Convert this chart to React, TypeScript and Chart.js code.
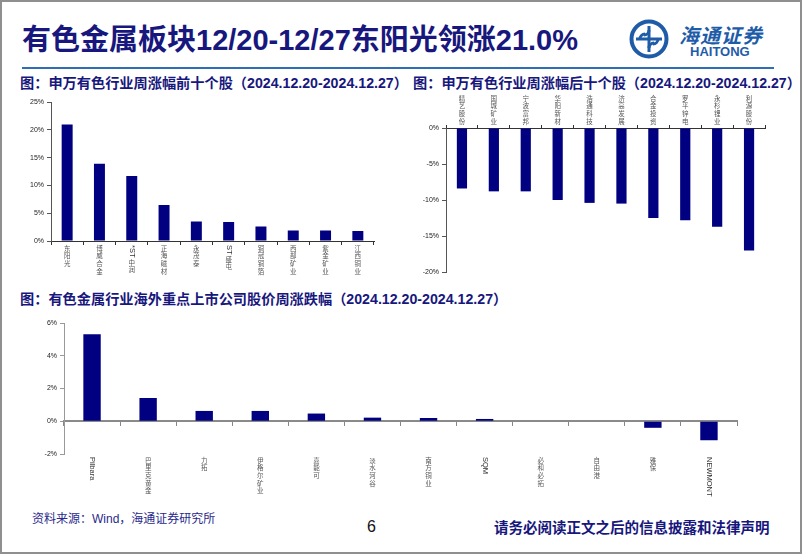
import React, { useEffect, useRef } from 'react';
import { Chart, registerables } from 'chart.js';

Chart.register(...registerables);

// ---- Data ----
const topLabels = ['东阳光', '博威合金', '*ST中润', '正海磁材', '永茂泰', 'ST盛屯', '铜冠铜箔', '西部矿业', '紫金矿业', '江西铜业'];
const topValues = [21.0, 13.9, 11.7, 6.5, 3.5, 3.4, 2.6, 1.9, 1.9, 1.8];

const bottomLabels = ['精艺股份', '国城矿业', '宁波富邦', '华阳新材', '浩通科技', '济高发展', '合金投资', '罗平锌电', '永杉锂业', '利源股份'];
const bottomValues = [-8.4, -8.8, -8.8, -10.0, -10.4, -10.5, -12.5, -12.8, -13.7, -17.0];

const overseasLabels = ['Pilbara', '巴里克黄金', '力拓', '伊格尔矿业', '嘉能可', '淡水河谷', '南方铜业', 'SQM', '必和必拓', '自由港', '雅保', 'NEWMONT'];
const overseasValues = [5.32, 1.42, 0.63, 0.63, 0.47, 0.22, 0.2, 0.14, 0, 0, -0.4, -1.16];

const topTicks = { min: 0, max: 25, step: 5 };
const bottomTicks = { min: -20, max: 0, step: 5 };
const overseasTicks = { min: -2, max: 6, step: 2 };

const NAVY = '#000080';
const TEXT_NAVY = '#17177d';

Chart.defaults.font.family = '"Liberation Sans", Arial, sans-serif';

function makeVLabelPlugin(topFn: (chart: any) => number) {
  return {
    id: 'vlabels',
    afterDraw(chart: any) {
      const { ctx } = chart;
      const xs = chart.scales.x;
      const labels: string[] = chart.data.labels;
      const size = 6.5;
      const pitch = 7.6;
      ctx.save();
      ctx.fillStyle = '#555';
      labels.forEach((lab, i) => {
        const x = xs.getPixelForValue(i);
        let y = topFn(chart);
        const chars = Array.from(lab);
        let k = 0;
        while (k < chars.length) {
          if (chars[k].charCodeAt(0) < 128) {
            let run = '';
            while (k < chars.length && chars[k].charCodeAt(0) < 128) run += chars[k++];
            ctx.save();
            ctx.font = `7.5px "Liberation Sans", Arial, sans-serif`;
            ctx.fillStyle = '#333';
            ctx.translate(x, y);
            ctx.rotate(Math.PI / 2);
            ctx.textAlign = 'left';
            ctx.textBaseline = 'middle';
            ctx.fillText(run, 0, 0);
            const w = ctx.measureText(run).width;
            ctx.restore();
            y += w + 1.5;
          } else {
            ctx.font = `${size}px "Noto Sans CJK SC", sans-serif`;
            ctx.textAlign = 'center';
            ctx.textBaseline = 'top';
            ctx.fillText(chars[k], x, y);
            y += pitch;
            k++;
          }
        }
      });
      ctx.restore();
    },
  };
}

const yTickFont = { size: 7 };

function cfgTop(): any {
  return {
    type: 'bar',
    data: {
      labels: topLabels,
      datasets: [{ data: topValues, backgroundColor: NAVY, barPercentage: 0.34, categoryPercentage: 1 }],
    },
    options: {
      responsive: false,
      animation: false,
      layout: { padding: { top: 7, right: 26, left: 0, bottom: 0 } },
      plugins: { legend: { display: false }, tooltip: { enabled: false } },
      scales: {
        x: {
          ticks: { display: false },
          grid: { drawOnChartArea: false, offset: true, tickLength: 4, color: '#333' },
          border: { color: '#333' },
          afterFit: (s: any) => { s.height = 39; },
        },
        y: {
          min: topTicks.min, max: topTicks.max,
          ticks: { stepSize: topTicks.step, callback: (v: any) => v + '%', font: yTickFont, color: '#222', padding: 3 },
          grid: { drawOnChartArea: false, tickLength: 4, color: '#555' },
          border: { color: '#555' },
          afterFit: (s: any) => { s.width = 51; },
        },
      },
    },
    plugins: [makeVLabelPlugin((c: any) => c.chartArea.bottom + 4)],
  };
}

function cfgBottom(): any {
  return {
    type: 'bar',
    data: {
      labels: bottomLabels,
      datasets: [{ data: bottomValues, backgroundColor: NAVY, barPercentage: 0.32, categoryPercentage: 1 }],
    },
    options: {
      responsive: false,
      animation: false,
      layout: { padding: { top: 0, right: 37, left: 0, bottom: 13 } },
      plugins: { legend: { display: false }, tooltip: { enabled: false } },
      scales: {
        x: {
          position: 'top',
          ticks: { display: false },
          grid: { drawOnChartArea: false, offset: true, tickLength: 3, color: '#333' },
          border: { color: '#333' },
          afterFit: (s: any) => { s.height = 43; },
        },
        y: {
          min: bottomTicks.min, max: bottomTicks.max,
          ticks: { stepSize: bottomTicks.step, callback: (v: any) => v + '%', font: yTickFont, color: '#222', padding: 3 },
          grid: { drawOnChartArea: false, tickLength: 4, color: '#555' },
          border: { color: '#555' },
          afterFit: (s: any) => { s.width = 46; },
        },
      },
    },
    plugins: [makeVLabelPlugin(() => 10)],
  };
}

function cfgOverseas(): any {
  return {
    type: 'bar',
    data: {
      labels: overseasLabels,
      datasets: [{ data: overseasValues, backgroundColor: NAVY, barPercentage: 0.31, categoryPercentage: 1 }],
    },
    options: {
      responsive: false,
      animation: false,
      layout: { padding: { top: 13, right: 65, left: 0, bottom: 56 } },
      plugins: { legend: { display: false }, tooltip: { enabled: false } },
      scales: {
        x: {
          position: { y: 0 },
          ticks: { display: false },
          grid: { drawOnChartArea: false, offset: true, tickLength: 4, color: '#888' },
          border: { color: '#8a8a8a', width: 2 },
        },
        y: {
          min: overseasTicks.min, max: overseasTicks.max,
          ticks: { stepSize: overseasTicks.step, callback: (v: any) => v + '%', font: yTickFont, color: '#222', padding: 3 },
          grid: { drawOnChartArea: false, tickLength: 4, color: '#999' },
          border: { color: '#999' },
          afterFit: (s: any) => { s.width = 64; },
        },
      },
    },
    plugins: [makeVLabelPlugin((c: any) => c.chartArea.bottom + 3)],
  };
}

const abs = (left: number, top: number, extra: any = {}): any => ({ position: 'absolute', left, top, ...extra });

export default function App() {
  const r1 = useRef<HTMLCanvasElement>(null);
  const r2 = useRef<HTMLCanvasElement>(null);
  const r3 = useRef<HTMLCanvasElement>(null);

  useEffect(() => {
    const c1 = new Chart(r1.current as any, cfgTop());
    const c2 = new Chart(r2.current as any, cfgBottom());
    const c3 = new Chart(r3.current as any, cfgOverseas());
    return () => { c1.destroy(); c2.destroy(); c3.destroy(); };
  }, []);

  const cjk = '"Liberation Sans", "Noto Sans CJK SC", sans-serif';
  const sub = { fontSize: 14.2, fontWeight: 700, color: TEXT_NAVY, lineHeight: '18px', whiteSpace: 'nowrap' };

  return (
    <div style={{ position: 'fixed', left: 0, top: 0, width: 802, height: 554, background: '#fff', overflow: 'hidden', fontFamily: cjk }}>
      {/* Title */}
      <div style={abs(22, 23, { fontSize: 29, fontWeight: 700, color: TEXT_NAVY, lineHeight: '34px', whiteSpace: 'nowrap' })}>
        有色金属板块12/20-12/27东阳光领涨21.0%
      </div>
      {/* Logo */}
      <svg style={abs(628, 18)} width={42} height={42} viewBox="0 0 42 42">
        <circle cx={21} cy={21} r={17.5} fill="none" stroke="#1f5ca8" strokeWidth={4} />
        <path d="M21 8 V34 M8 21 H34" stroke="#1f5ca8" strokeWidth={3} fill="none" />
        <path d="M21 12 a5 5 0 0 1 -5 5 M30 21 a5 5 0 0 1 -5 5 M21 30 a5 5 0 0 1 5 -5 M12 21 a5 5 0 0 1 5 -5" stroke="#1f5ca8" strokeWidth={3} fill="none" />
      </svg>
      <div style={abs(679, 20, { fontSize: 20, fontWeight: 700, fontStyle: 'italic', color: '#1f5ca8', letterSpacing: 1, whiteSpace: 'nowrap' })}>海通证券</div>
      <div style={abs(690, 44, { fontSize: 13, fontWeight: 700, color: '#1f5ca8', fontFamily: '"Liberation Sans", Arial, sans-serif' })}>HAITONG</div>
      {/* Rule */}
      <div style={abs(22, 67, { width: 752, height: 2, background: '#2f6db5' })} />
      {/* Subtitles */}
      <div style={abs(20, 74, sub)}>图：申万有色行业周涨幅前十个股（2024.12.20-2024.12.27）</div>
      <div style={abs(413, 74, sub)}>图：申万有色行业周涨幅后十个股（2024.12.20-2024.12.27）</div>
      <div style={abs(20, 290, sub)}>图：有色金属行业海外重点上市公司股价周涨跌幅（2024.12.20-2024.12.27）</div>
      {/* Charts */}
      <canvas ref={r1} width={400} height={185} style={abs(0, 95, { width: 400, height: 185 })} />
      <canvas ref={r2} width={402} height={200} style={abs(400, 85, { width: 402, height: 200 })} />
      <canvas ref={r3} width={802} height={200} style={abs(0, 310, { width: 802, height: 200 })} />
      {/* Footer */}
      <div style={abs(32, 511, { fontSize: 12, color: '#2a2a8c', lineHeight: '16px', whiteSpace: 'nowrap' })}>资料来源：Wind，海通证券研究所</div>
      <div style={abs(367, 518, { fontSize: 16, color: '#111', lineHeight: '18px', fontFamily: '"Liberation Sans", Arial, sans-serif' })}>6</div>
      <div style={abs(494, 519, { fontSize: 14.5, fontWeight: 700, color: TEXT_NAVY, lineHeight: '18px', whiteSpace: 'nowrap' })}>请务必阅读正文之后的信息披露和法律声明</div>
      {/* Border */}
      <div style={abs(0, 0, { width: 802, height: 554, boxSizing: 'border-box', border: '2px solid #8f8f8f', pointerEvents: 'none' })} />
    </div>
  );
}
